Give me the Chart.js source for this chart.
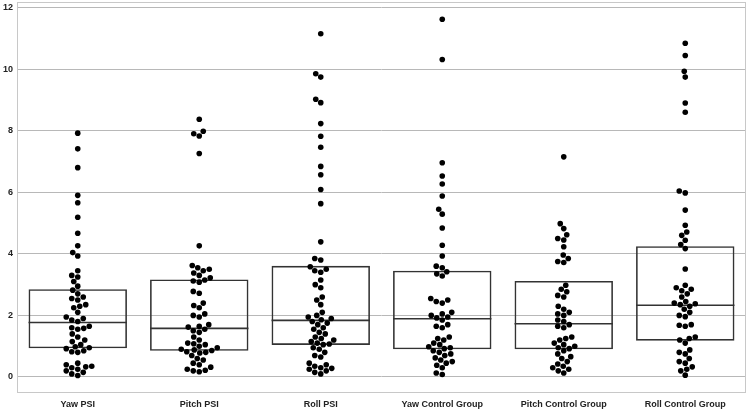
<!DOCTYPE html>
<html>
<head>
<meta charset="utf-8">
<script src="https://cdn.jsdelivr.net/npm/chart.js@4/dist/chart.umd.min.js"></script>
<style>
  html, body { margin: 0; padding: 0; background: #fff; }
  #wrap { width: 749px; height: 411px; position: relative; }
</style>
</head>
<body>
<div id="wrap"><canvas id="chart"></canvas></div>
<script>
const categories = ["Yaw PSI", "Pitch PSI", "Roll PSI", "Yaw Control Group", "Pitch Control Group", "Roll Control Group"];

// box edges
const q1 = [0.93, 0.85, 1.04, 0.90, 0.90, 1.18];
const medians = [1.77, 1.58, 1.84, 1.89, 1.73, 2.33];
const q3 = [2.85, 3.17, 3.61, 3.45, 3.12, 4.25];

// individual observations per group
const yawPsi = [7.92, 7.41, 6.8, 5.9, 5.66, 5.19, 4.67, 4.26, 4.04, 3.93, 3.45, 3.3, 3.25,
  3.1, 2.95, 2.82, 2.7, 2.6, 2.55, 2.5, 2.35, 2.3, 2.25, 2.1, 1.95, 1.9, 1.85, 1.8,
  1.65, 1.6, 1.58, 1.55, 1.4, 1.3, 1.2, 1.15, 1.05, 0.98, 0.95, 0.92,
  0.85, 0.82, 0.8, 0.45, 0.4, 0.35, 0.33, 0.3, 0.25, 0.2, 0.15, 0.1, 0.05];
const pitchPsi = [8.37, 7.98, 7.9, 7.83, 7.26, 4.26, 3.62, 3.55, 3.5, 3.45, 3.38, 3.3, 3.22,
  3.15, 3.12, 3.08, 2.78, 2.72, 2.4, 2.32, 2.25, 2.05, 2.0, 1.95, 1.7, 1.65, 1.62,
  1.55, 1.5, 1.45, 1.3, 1.2, 1.1, 1.08, 1.05, 1.0, 0.95, 0.9, 0.88, 0.86,
  0.82, 0.8, 0.78, 0.7, 0.6, 0.55, 0.45, 0.4, 0.32, 0.25, 0.22, 0.2, 0.17];
const rollPsi = [11.15, 9.85, 9.74, 9.02, 8.91, 8.23, 7.82, 7.46, 6.84, 6.57, 6.09, 5.63, 4.39, 3.85, 3.8,
  3.58, 3.5, 3.45, 3.4, 3.15, 3.0, 2.9, 2.6, 2.5, 2.35, 2.1, 2.0, 1.95, 1.9, 1.86,
  1.8, 1.75, 1.7, 1.6, 1.55, 1.45, 1.4, 1.3, 1.25, 1.2, 1.15, 1.1, 1.07, 1.05,
  0.95, 0.9, 0.8, 0.7, 0.65, 0.45, 0.4, 0.35, 0.3, 0.28, 0.25, 0.2, 0.15, 0.1];
const yawControl = [11.62, 10.31, 6.96, 6.53, 6.27, 5.88, 5.45, 5.29, 4.84, 4.28, 3.93, 3.6, 3.55,
  3.42, 3.35, 3.28, 2.55, 2.5, 2.45, 2.4, 2.1, 2.05, 2.0, 1.95, 1.92,
  1.85, 1.7, 1.65, 1.6, 1.3, 1.25, 1.2, 1.1, 1.05, 0.98, 0.95, 0.92,
  0.85, 0.8, 0.75, 0.7, 0.62, 0.55, 0.5, 0.45, 0.38, 0.3, 0.13, 0.08];
const pitchControl = [7.15, 4.98, 4.82, 4.62, 4.5, 4.45, 4.23, 3.96, 3.85, 3.75, 3.72,
  2.98, 2.85, 2.77, 2.65, 2.6, 2.3, 2.2, 2.1, 2.05, 2.0, 1.85, 1.8,
  1.7, 1.65, 1.6, 1.3, 1.25, 1.2, 1.1, 1.05, 1.0, 0.95, 0.92,
  0.85, 0.75, 0.66, 0.6, 0.5, 0.42, 0.35, 0.3, 0.25, 0.2, 0.13];
const rollControl = [10.84, 10.44, 9.93, 9.74, 8.9, 8.6, 6.04, 5.98, 5.42, 4.93, 4.71, 4.6, 4.44, 4.3,
  4.17, 3.51, 2.98, 2.9, 2.85, 2.8, 2.7, 2.6, 2.45, 2.4, 2.38, 2.35,
  2.3, 2.2, 2.1, 2.0, 1.96, 1.7, 1.68, 1.65, 1.3, 1.25, 1.2,
  1.1, 0.88, 0.8, 0.75, 0.6, 0.5, 0.45, 0.33, 0.25, 0.2, 0.06];
const groups = [yawPsi, pitchPsi, rollPsi, yawControl, pitchControl, rollControl];

const yTicks = [0, 2, 4, 6, 8, 10, 12];

const DOT_R = 2.8;
const LINE = "#333333";
const FONT = { family: "'Liberation Sans', Arial, sans-serif", size: 9, weight: "bold" };

// frame around the plot area
const framePlugin = {
  id: "frame",
  beforeDatasetsDraw(chart) {
    const a = chart.chartArea, ctx = chart.ctx;
    ctx.save();
    ctx.strokeStyle = "#c8c8c8";
    ctx.lineWidth = 1;
    ctx.strokeRect(a.left + 0.5, a.top + 0.5, a.right - a.left - 1, a.bottom - a.top - 1);
    ctx.restore();
  }
};

// median line across each box
const medianPlugin = {
  id: "median",
  afterDatasetsDraw(chart) {
    const meta = chart.getDatasetMeta(0);
    const y = chart.scales.y, ctx = chart.ctx;
    ctx.save();
    ctx.strokeStyle = LINE;
    ctx.lineWidth = 1.6;
    meta.data.forEach((bar, i) => {
      const py = y.getPixelForValue(medians[i]);
      ctx.beginPath();
      ctx.moveTo(bar.x - bar.width / 2, py);
      ctx.lineTo(bar.x + bar.width / 2, py);
      ctx.stroke();
    });
    ctx.restore();
  }
};

// beeswarm of the raw values, placed in pixel space from the scales
const swarmPlugin = {
  id: "swarm",
  afterDatasetsDraw(chart) {
    const xs = chart.scales.x, ys = chart.scales.y, ctx = chart.ctx;
    const minD = DOT_R * 2 + 0.3;
    ctx.save();
    ctx.fillStyle = "#000";
    groups.forEach((vals, i) => {
      const cx = xs.getPixelForValue(i);
      const placed = [];
      vals.slice().sort((a, b) => a - b).forEach(v => {
        const py = ys.getPixelForValue(v);
        let off = 0;
        for (let k = 0; k < 400; k++) {
          const cand = (k % 2 === 0 ? 1 : -1) * Math.ceil(k / 2) * 0.5;
          const ok = placed.every(p => Math.hypot(p.x - cand, p.y - py) >= minD);
          if (ok) { off = cand; break; }
        }
        placed.push({ x: off, y: py });
        ctx.beginPath();
        ctx.arc(cx + off, py, DOT_R, 0, Math.PI * 2);
        ctx.fill();
      });
    });
    ctx.restore();
  }
};

new Chart(document.getElementById("chart"), {
  type: "bar",
  data: {
    labels: categories,
    datasets: [{
      data: categories.map((c, i) => [q1[i], q3[i]]),
      backgroundColor: "rgba(255,255,255,0)",
      borderColor: LINE,
      borderWidth: 1.6,
      borderSkipped: false,
      barPercentage: 0.81,
      categoryPercentage: 1
    }]
  },
  options: {
    responsive: true,
    maintainAspectRatio: false,
    animation: false,
    layout: { padding: { top: 2, right: 3, left: 0, bottom: 0 } },
    plugins: { legend: { display: false }, tooltip: { enabled: false } },
    scales: {
      x: {
        grid: { display: false, drawTicks: false },
        border: { display: false },
        ticks: { color: "#222", font: FONT, padding: 6, maxRotation: 0 },
        afterFit(s) { s.height = 18; s.paddingLeft = 0; s.paddingRight = 0; }
      },
      y: {
        min: -0.52,
        max: 12.18,
        afterBuildTicks(s) { s.ticks = yTicks.map(v => ({ value: v })); },
        grid: { color: "#b8b8b8", lineWidth: 1, drawTicks: false },
        border: { display: false },
        ticks: { color: "#222", font: FONT, padding: 4 },
        afterFit(s) { s.width = 17; s.paddingTop = 0; s.paddingBottom = 0; }
      }
    }
  },
  plugins: [framePlugin, medianPlugin, swarmPlugin]
});
</script>
</body>
</html>
